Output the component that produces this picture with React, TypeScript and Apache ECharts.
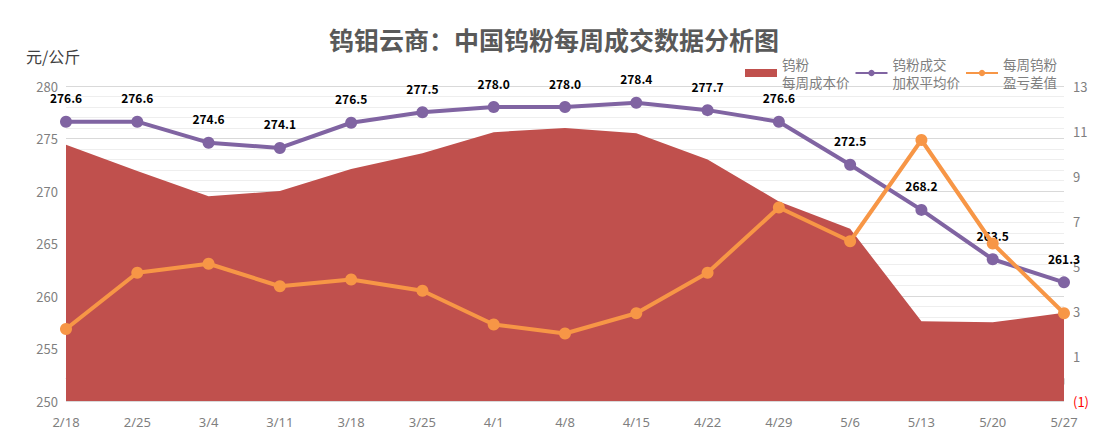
import React, { useEffect, useRef } from "react";
import * as echarts from "echarts";

const categories = ["2/18", "2/25", "3/4", "3/11", "3/18", "3/25", "4/1", "4/8", "4/15", "4/22", "4/29", "5/6", "5/13", "5/20", "5/27"];
const costPrice = [274.4, 271.9, 269.5, 270.0, 272.1, 273.6, 275.6, 276.0, 275.5, 273.0, 269.0, 266.4, 257.6, 257.5, 258.4];
const avgPrice = [276.6, 276.6, 274.6, 274.1, 276.5, 277.5, 278.0, 278.0, 278.4, 277.7, 276.6, 272.5, 268.2, 263.5, 261.3];
const profitDiff = [2.2, 4.7, 5.1, 4.1, 4.4, 3.9, 2.4, 2.0, 2.9, 4.7, 7.6, 6.1, 10.6, 6.0, 2.9];
const rightTicks = [-1, 1, 3, 5, 7, 9, 11, 13];

export default function App() {
  const ref = useRef<HTMLDivElement>(null);
  useEffect(() => {
    if (!ref.current) return;
    const chart = echarts.init(ref.current, null, { renderer: "svg" });
    const gray = "#7f7f7f";
    chart.setOption({
      animation: false,
      backgroundColor: "#ffffff",
      textStyle: { fontFamily: "'Noto Sans CJK SC', 'Noto Sans', sans-serif" },
      title: {
        text: "钨钼云商：中国钨粉每周成交数据分析图",
        left: "center",
        top: 21,
        textStyle: { fontSize: 25, fontWeight: "bold", color: "#595959", fontFamily: "'Noto Sans CJK SC', sans-serif" },
      },
      legend: {
        top: 50,
        left: 740,
        itemGap: 5,
        itemWidth: 32,
        itemHeight: 8,
        textStyle: { color: gray, fontSize: 13.5, lineHeight: 18 },
        data: [
          { name: "钨粉\n每周成本价", icon: "rect" },
          { name: "钨粉成交\n加权平均价" },
          { name: "每周钨粉\n盈亏差值" },
        ],
      },
      grid: { left: 66, right: 44, top: 86, bottom: 45 },
      xAxis: {
        type: "category",
        data: categories,
        boundaryGap: false,
        axisLine: { lineStyle: { color: "#d9d9d9" } },
        axisTick: { show: true, alignWithLabel: true, length: 6, lineStyle: { color: "#d9d9d9" } },
        axisLabel: { color: gray, fontSize: 13, margin: 14, fontFamily: "'Liberation Sans Narrow', 'Noto Sans', sans-serif" },
      },
      yAxis: [
        {
          type: "value",
          min: 250,
          max: 280,
          interval: 5,
          name: "元/公斤",
          nameLocation: "end",
          nameGap: 22,
          nameTextStyle: { color: "#404040", fontSize: 16, align: "left", padding: [0, 0, 0, -40] },
          axisLine: { show: false },
          axisTick: { show: false },
          axisLabel: { color: gray, fontSize: 13, margin: 8 },
          splitLine: { lineStyle: { color: "#d9d9d9" } },
          minorTick: { show: false, splitNumber: 5 },
          minorSplitLine: { show: true, lineStyle: { color: "#eeeeee" } },
        },
        {
          type: "value",
          min: -1,
          max: 13,
          position: "right",
          axisLine: { show: false },
          axisTick: { show: false },
          splitLine: { show: false },
          axisLabel: {
            customValues: rightTicks,
            color: gray,
            fontSize: 13,
            margin: 9,
            formatter: (v: number) => (v < 0 ? "{neg|(" + Math.abs(v) + ")}" : String(v)),
            rich: { neg: { color: "#ff0000", fontSize: 13 } },
          },
        },
      ],
      series: [
        {
          name: "钨粉\n每周成本价",
          type: "line",
          data: costPrice,
          yAxisIndex: 0,
          symbol: "none",
          lineStyle: { width: 0 },
          itemStyle: { color: "#C0504D" },
          areaStyle: { color: "#C0504D", opacity: 1, origin: "start" },
          z: 1,
        },
        {
          name: "钨粉成交\n加权平均价",
          type: "line",
          data: avgPrice,
          yAxisIndex: 0,
          symbol: "circle",
          symbolSize: 12,
          lineStyle: { width: 4, color: "#8064A2" },
          itemStyle: { color: "#8064A2" },
          label: {
            show: true,
            position: "top",
            distance: 12,
            color: "#000000",
            fontWeight: "bold",
            fontSize: 12,
            formatter: (p: any) => Number(p.value).toFixed(1),
          },
          z: 2,
        },
        {
          name: "每周钨粉\n盈亏差值",
          type: "line",
          data: profitDiff,
          yAxisIndex: 1,
          symbol: "circle",
          symbolSize: 12,
          lineStyle: { width: 4, color: "#F79646" },
          itemStyle: { color: "#F79646" },
          z: 3,
        },
      ],
    });
    return () => chart.dispose();
  }, []);
  return (
    <div style={{ position: "relative", width: 1108, height: 446, marginLeft: -8, marginTop: -8 }}>
      <div ref={ref} style={{ width: 1108, height: 446 }} />
      <div
        style={{
          position: "absolute",
          left: 5,
          top: 4,
          width: 1097,
          height: 460,
          border: "1px solid #d0d0d0",
          pointerEvents: "none",
          boxSizing: "border-box",
        }}
      />
    </div>
  );
}
